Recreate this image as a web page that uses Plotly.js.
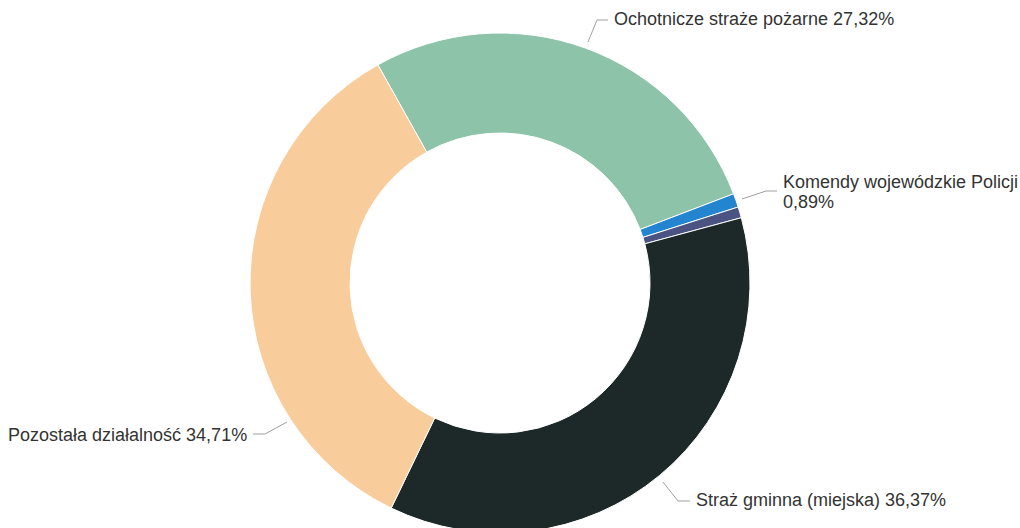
<!DOCTYPE html>
<html>
<head>
<meta charset="utf-8">
<script src="https://cdn.plot.ly/plotly-3.0.1.min.js"></script>
<style>
html,body{margin:0;padding:0;overflow:hidden;background:#fff;}
#chart{width:1020px;height:560px;}
</style>
</head>
<body>
<div id="chart"></div>
<script>
// Data
const categories = [
  "Ochotnicze straże pożarne",
  "Komendy wojewódzkie Policji",
  "Inne",
  "Straż gminna (miejska)",
  "Pozostała działalność"
];
const shares = [27.32, 0.89, 0.71, 36.37, 34.71];
const sliceColors = ["#8cc3a9", "#2385d0", "#4a5381", "#1d2828", "#f9cc9b"];
const labelText = [
  "Ochotnicze straże pożarne 27,32%",
  "Komendy wojewódzkie Policji",
  "",
  "Straż gminna (miejska) 36,37%",
  "Pozostała działalność 34,71%"
];
const secondLine = "0,89%";

const W = 1020, H = 560;
const cx = 500, cy = 283, R = 250;
const px = x => x / W;
const py = y => (H - y) / H;

const trace = {
  type: "pie",
  labels: categories,
  values: shares,
  sort: false,
  direction: "clockwise",
  rotation: -29.25,
  hole: 0.6,
  textinfo: "none",
  hoverinfo: "label+percent",
  marker: {colors: sliceColors, line: {color: "#ffffff", width: 1}},
  domain: {x: [px(cx - R), px(cx + R)], y: [py(cy + R), py(cy - R)]},
  showlegend: false
};

const font = {family: "Liberation Sans, Arial, sans-serif", size: 18, color: "#333333"};

// label placements (pixel layout)
const labelPos = [
  {x: 612, y: 19, anchor: "left", line: [[588, 42], [597, 20], [608, 20]]},
  {x: 781, y: 182, anchor: "left", line: [[742, 199], [766, 191], [777, 191]]},
  null,
  {x: 694, y: 500, anchor: "left", line: [[663, 482], [678, 501], [690, 501]]},
  {x: 249, y: 435, anchor: "right", line: [[287, 422], [265, 434], [253, 434]]}
];

const annotations = [];
const shapes = [];
labelPos.forEach((p, i) => {
  if (!p) return;
  annotations.push({
    xref: "paper", yref: "paper", x: px(p.x), y: py(p.y),
    xanchor: p.anchor, yanchor: "middle", showarrow: false,
    text: labelText[i], font: font
  });
  const d = p.line.map((pt, k) => (k ? "L" : "M") + px(pt[0]) + "," + py(pt[1])).join(" ");
  shapes.push({type: "path", xref: "paper", yref: "paper", path: d,
    line: {color: "#a0a0a0", width: 1}});
});
annotations.push({
  xref: "paper", yref: "paper", x: px(781), y: py(202),
  xanchor: "left", yanchor: "middle", showarrow: false,
  text: secondLine, font: font
});

const layout = {
  width: W, height: H,
  margin: {l: 0, r: 0, t: 0, b: 0, pad: 0},
  paper_bgcolor: "#ffffff",
  annotations: annotations,
  shapes: shapes
};

Plotly.newPlot("chart", [trace], layout, {displayModeBar: false, staticPlot: true});
</script>
</body>
</html>
